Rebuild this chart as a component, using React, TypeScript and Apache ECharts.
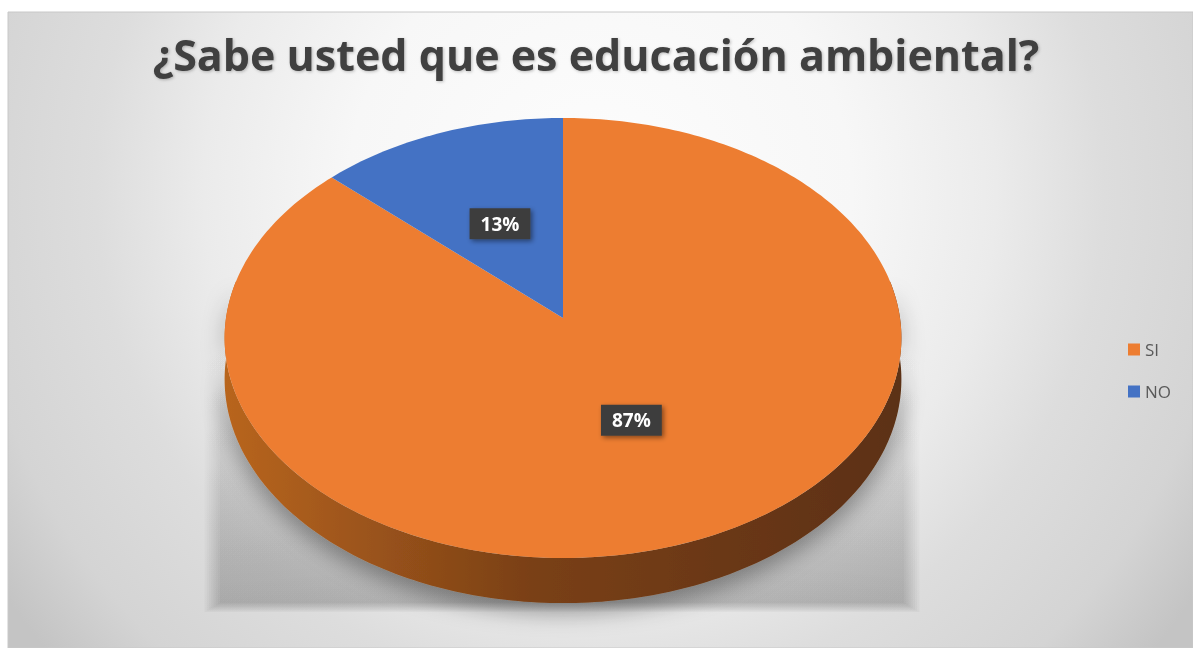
import React, { useEffect, useRef } from "react";
import * as echarts from "echarts";

const TITLE = "¿Sabe usted que es educación ambiental?";
const categories = ["SI", "NO"];
const values = [87, 13];

const topColors = ["#ED7D31", "#4472C4"];
const sideColors = [
  ["#b8651f", "#7a4016", "#5c3012"],
  ["#35609f", "#25457a", "#1c355f"],
];

// projection of the tilted pie (styles / layout only)
const CX = 563;
const CY = 318;
const RX = 337;
const RY = 218.2;
const K = 0.0909;
const DEPTH = 41;

function proj(thetaDeg: number, r: number) {
  const t = (thetaDeg * Math.PI) / 180;
  const u = r * Math.sin(t);
  const v = -r * Math.cos(t);
  const w = 1 - K * v;
  return { x: CX + (RX * u) / w, y: CY + (RY * v) / w, w };
}

function shadowLayers() {
  const out: any[] = [];
  const n = 8;
  for (let i = 0; i < n; i++) {
    const x = 220 - i * 2.2;
    const y = 330 + i * 2;
    const w = 684 + i * 4.4;
    const bottom = 603 + i * 1.3;
    out.push({
      type: "rect",
      z: -5,
      silent: true,
      shape: { x, y, width: w, height: bottom - y },
      style: {
        fill: new echarts.graphic.LinearGradient(
          0, y, 0, bottom,
          [
            { offset: 0, color: "rgba(0,0,0,0)" },
            { offset: 0.6, color: "rgba(0,0,0,0.02)" },
            { offset: 1, color: "rgba(0,0,0,0.032)" },
          ],
          true
        ),
      },
    });
  }
  return out;
}

export default function App() {
  const ref = useRef<HTMLDivElement>(null);
  useEffect(() => {
    if (!ref.current) return;
    const chart = echarts.init(ref.current, null, { renderer: "svg" });
    const total = values.reduce((a, b) => a + b, 0);
    const starts: number[] = [];
    let acc = 0;
    values.forEach((v) => {
      starts.push(acc);
      acc += v;
    });

    const series = categories.map((name, i) => ({
      type: "custom",
      name,
      coordinateSystem: "none",
      z: 2,
      itemStyle: { color: topColors[i] },
      data: [[values[i]]],
      renderItem: (params: any, api: any) => {
        const val = api.value(0);
        const a0 = (starts[i] / total) * 360;
        const a1 = a0 + (val / total) * 360;
        const children: any[] = [];
        const s0 = Math.max(a0, 80);
        const s1 = Math.min(a1, 280);
        if (s1 > s0) {
          const topPts: number[][] = [];
          const botPts: number[][] = [];
          for (let a = s0; a <= s1 + 1e-6; a += 1) {
            const p = proj(a, 1);
            topPts.push([p.x, p.y]);
            botPts.push([p.x, p.y + DEPTH / p.w]);
          }
          const pts = topPts.concat(botPts.reverse());
          children.push({
            type: "polygon",
            shape: { points: pts },
            style: {
              fill: new echarts.graphic.LinearGradient(
                CX - RX, 0, CX + RX, 0,
                [
                  { offset: 0, color: sideColors[i][0] },
                  { offset: 0.45, color: sideColors[i][1] },
                  { offset: 1, color: sideColors[i][2] },
                ],
                true
              ),
              shadowBlur: 22,
              shadowOffsetY: 10,
              shadowColor: "rgba(0,0,0,0.35)",
            },
          });
        }
        const face: number[][] = [[CX, CY]];
        const steps = Math.max(2, Math.ceil(a1 - a0));
        for (let k = 0; k <= steps; k++) {
          const a = a0 + ((a1 - a0) * k) / steps;
          const p = proj(a, 1);
          face.push([p.x, p.y]);
        }
        children.push({
          type: "polygon",
          shape: { points: face },
          style: { fill: topColors[i] },
        });
        const mid = (a0 + a1) / 2;
        const lp = proj(mid, 0.49);
        children.push({
          type: "text",
          x: lp.x,
          y: lp.y,
          z2: 10,
          style: {
            text: Math.round((val / total) * 100) + "%",
            fill: "#ffffff",
            fontFamily: "Open Sans",
            fontWeight: "bold",
            fontSize: 19,
            align: "center",
            verticalAlign: "middle",
            backgroundColor: "#3d3d3d",
            padding: [6, 11, 6, 11],
            shadowBlur: 5,
            shadowOffsetX: 2,
            shadowOffsetY: 2,
            shadowColor: "rgba(0,0,0,0.45)",
          },
        });
        return { type: "group", children };
      },
    }));

    chart.setOption({
      animation: false,
      title: {
        text: TITLE,
        left: 596,
        textAlign: "center",
        top: 33,
        padding: 0,
        textStyle: {
          color: "#404040",
          fontFamily: "Open Sans",
          fontWeight: "bold",
          fontSize: 43,
          textShadowColor: "rgba(0,0,0,0.25)",
          textShadowBlur: 3,
          textShadowOffsetX: 1,
          textShadowOffsetY: 1,
        },
      },
      legend: {
        data: categories,
        orient: "vertical",
        left: 1128,
        top: 341,
        padding: 0,
        icon: "rect",
        itemWidth: 12,
        itemHeight: 12,
        itemGap: 25,
        textStyle: { color: "#595959", fontSize: 17, fontFamily: "Open Sans" },
      },
      graphic: [
        {
          type: "rect",
          z: -10,
          silent: true,
          shape: { x: 8, y: 12, width: 1185, height: 636 },
          style: {
            fill: new echarts.graphic.RadialGradient(
              600, 190, 720,
              [
                { offset: 0, color: "#fdfdfd" },
                { offset: 0.35, color: "#f7f7f7" },
                { offset: 0.55, color: "#ebebeb" },
                { offset: 0.7, color: "#dddddd" },
                { offset: 0.88, color: "#d4d4d4" },
                { offset: 1, color: "#c4c4c4" },
              ],
              true
            ),
            stroke: "#c8c8c8",
            lineWidth: 1,
          },
        },
        ...shadowLayers(),
      ],
      series,
    });
    return () => chart.dispose();
  }, []);
  return (
    <div
      ref={ref}
      style={{ position: "fixed", left: 0, top: 0, width: 1193, height: 648 }}
    />
  );
}
